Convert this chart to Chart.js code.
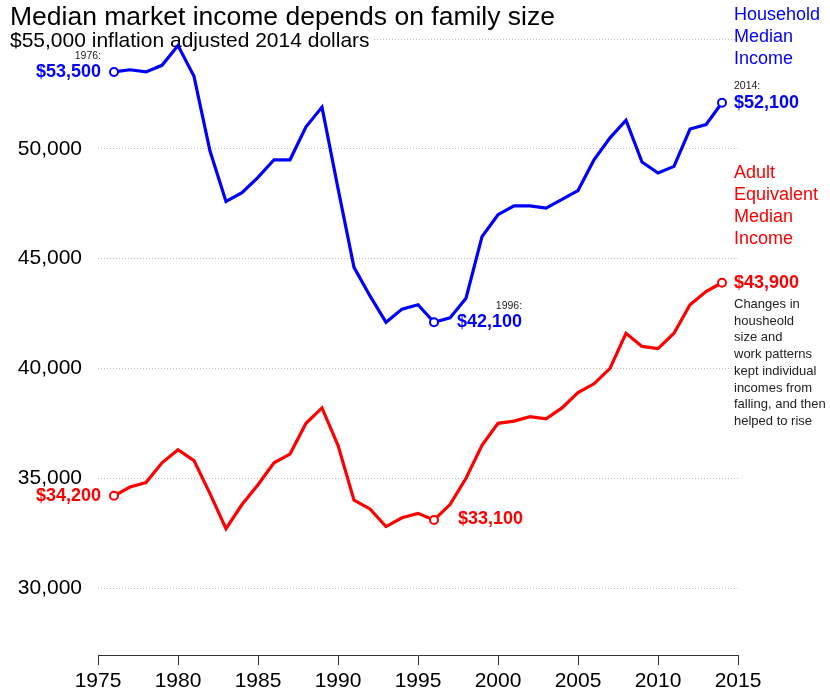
<!DOCTYPE html>
<html>
<head>
<meta charset="utf-8">
<script src="https://cdn.jsdelivr.net/npm/chart.js@4"></script>
<style>
  body { margin: 0; background: #fff; }
  canvas { display: block; }
</style>
</head>
<body>
<canvas id="myChart" width="830" height="696"></canvas>
<script>
const years = [1976, 1977, 1978, 1979, 1980, 1981, 1982, 1983, 1984, 1985,
               1986, 1987, 1988, 1989, 1990, 1991, 1992, 1993, 1994, 1995,
               1996, 1997, 1998, 1999, 2000, 2001, 2002, 2003, 2004, 2005,
               2006, 2007, 2008, 2009, 2010, 2011, 2012, 2013, 2014];
const household = [53500, 53600, 53500, 53800, 54700, 53300, 49900, 47600, 48000, 48700,
                   49500, 49500, 51000, 51900, 48200, 44600, 43300, 42100, 42700, 42900,
                   42100, 42300, 43200, 46000, 47000, 47400, 47400, 47300, 47700, 48100,
                   49500, 50500, 51300, 49400, 48900, 49200, 50900, 51100, 52100];
const adultEquiv = [34200, 34600, 34800, 35700, 36300, 35800, 34300, 32700, 33800, 34700,
                    35700, 36100, 37500, 38200, 36500, 34000, 33600, 32800, 33200, 33400,
                    33100, 33800, 35000, 36500, 37500, 37600, 37800, 37700, 38200, 38900,
                    39300, 40000, 41600, 41000, 40900, 41600, 42900, 43500, 43900];
const markedYears = [1976, 1996, 2014];
const xTicks = [1975, 1980, 1985, 1990, 1995, 2000, 2005, 2010, 2015];
const yTicks = [30000, 35000, 40000, 45000, 50000, 55000];

const BLUE = '#0000ff';
const RED = '#ff0000';
const FONT = "'Liberation Sans', Arial, sans-serif";

function fmt(v) {
    return v.toLocaleString('en-US');
}

function pts(values) {
    return years.map((y, i) => ({ x: y, y: values[i] }));
}

function radii() {
    return years.map(y => markedYears.includes(y) ? 4 : 0);
}

function txt(ctx, s, x, y, size, color, align, bold) {
    ctx.font = (bold ? 'bold ' : '') + size + 'px ' + FONT;
    ctx.fillStyle = color;
    ctx.textAlign = align;
    ctx.textBaseline = 'middle';
    ctx.fillText(s, x, y);
}

const annotations = {
    id: 'annotations',
    beforeDatasetsDraw(chart) {
        const ctx = chart.ctx;
        ctx.save();
        ctx.font = '21px ' + FONT;
        const sub = '$55,000 inflation adjusted 2014 dollars';
        const w = ctx.measureText(sub).width;
        ctx.fillStyle = '#fff';
        ctx.fillRect(0, 30, 10 + w + 4, 18);
        ctx.fillStyle = '#000';
        ctx.textAlign = 'left';
        ctx.textBaseline = 'alphabetic';
        ctx.fillText(sub, 10, 47);
        ctx.restore();
    },
    afterDraw(chart) {
        const ctx = chart.ctx;
        const xs = chart.scales.x, ys = chart.scales.y;
        ctx.save();

        ctx.font = '26.5px ' + FONT;
        ctx.fillStyle = '#000';
        ctx.textAlign = 'left';
        ctx.textBaseline = 'alphabetic';
        ctx.fillText('Median market income depends on family size', 10, 25);

        const i0 = years.indexOf(1976), i1 = years.indexOf(1996), i2 = years.indexOf(2014);

        // 1976 start values
        let px = xs.getPixelForValue(1976);
        let py = ys.getPixelForValue(household[i0]);
        txt(ctx, '$' + fmt(household[i0]), px - 13, py, 18, BLUE, 'right', true);
        txt(ctx, '1976:', px - 13, py - 16, 10.5, '#222', 'right', false);
        py = ys.getPixelForValue(adultEquiv[i0]);
        txt(ctx, '$' + fmt(adultEquiv[i0]), px - 13, py, 18, RED, 'right', true);

        // 1996 low point
        px = xs.getPixelForValue(1996);
        py = ys.getPixelForValue(household[i1]);
        ctx.font = 'bold 18px ' + FONT;
        const w96 = ctx.measureText('$' + fmt(household[i1])).width;
        txt(ctx, '$' + fmt(household[i1]), px + 23, py, 18, BLUE, 'left', true);
        txt(ctx, '1996:', px + 23 + w96, py - 16, 10.5, '#222', 'right', false);
        py = ys.getPixelForValue(adultEquiv[i1]);
        txt(ctx, '$' + fmt(adultEquiv[i1]), px + 24, py - 1, 18, RED, 'left', true);

        // 2014 end values
        px = xs.getPixelForValue(2014);
        py = ys.getPixelForValue(household[i2]);
        txt(ctx, '$' + fmt(household[i2]), px + 12, py, 18, BLUE, 'left', true);
        txt(ctx, '2014:', px + 12, py - 17, 10.5, '#222', 'left', false);
        py = ys.getPixelForValue(adultEquiv[i2]);
        txt(ctx, '$' + fmt(adultEquiv[i2]), px + 12, py, 18, RED, 'left', true);

        // series names
        ['Household', 'Median', 'Income'].forEach((s, k) => {
            txt(ctx, s, 734, 15 + k * 22, 18, BLUE, 'left', false);
        });
        ['Adult', 'Equivalent', 'Median', 'Income'].forEach((s, k) => {
            txt(ctx, s, 734, 173 + k * 22.1, 18, RED, 'left', false);
        });
        ['Changes in', 'housheold', 'size and', 'work patterns', 'kept individual',
         'incomes from', 'falling, and then', 'helped to rise'].forEach((s, k) => {
            txt(ctx, s, 734, 304.5 + k * 16.7, 13, '#222', 'left', false);
        });

        ctx.restore();
    }
};

const ctx = document.getElementById('myChart').getContext('2d');
const myChart = new Chart(ctx, {
    type: 'line',
    data: {
        datasets: [
            {
                label: 'Household Median Income',
                data: pts(household),
                borderColor: BLUE,
                borderWidth: 3.2,
                pointRadius: radii(),
                pointBackgroundColor: '#fff',
                pointBorderColor: BLUE,
                pointBorderWidth: 2,
                tension: 0,
                clip: false
            },
            {
                label: 'Adult Equivalent Median Income',
                data: pts(adultEquiv),
                borderColor: RED,
                borderWidth: 3.2,
                pointRadius: radii(),
                pointBackgroundColor: '#fff',
                pointBorderColor: RED,
                pointBorderWidth: 2,
                tension: 0,
                clip: false
            }
        ]
    },
    options: {
        responsive: false,
        animation: false,
        layout: { padding: { top: 39, right: 92, left: 0, bottom: 0 } },
        plugins: {
            legend: { display: false },
            tooltip: { enabled: false },
            title: { display: false }
        },
        scales: {
            x: {
                type: 'linear',
                min: 1975,
                max: 2015,
                afterBuildTicks: (scale) => { scale.ticks = xTicks.map(v => ({ value: v })); },
                afterFit: (scale) => { scale.height = 41; },
                ticks: {
                    color: '#000',
                    padding: 4,
                    maxRotation: 0,
                    font: { family: FONT, size: 21 },
                    callback: (v) => String(v)
                },
                grid: {
                    drawOnChartArea: false,
                    drawTicks: true,
                    tickLength: 10,
                    color: '#333',
                    lineWidth: 1
                },
                border: { display: true, color: '#333', width: 1 }
            },
            y: {
                min: 26950,
                max: 55000,
                afterBuildTicks: (scale) => { scale.ticks = yTicks.map(v => ({ value: v })); },
                afterFit: (scale) => { scale.width = 98; },
                ticks: {
                    color: '#000',
                    padding: 16,
                    font: { family: FONT, size: 21 },
                    callback: (v) => v === 55000 ? '' : fmt(v)
                },
                grid: {
                    drawTicks: false,
                    color: '#bbb',
                    lineWidth: 1
                },
                border: { display: false, dash: [1, 2] }
            }
        }
    },
    plugins: [annotations]
});
</script>
</body>
</html>
